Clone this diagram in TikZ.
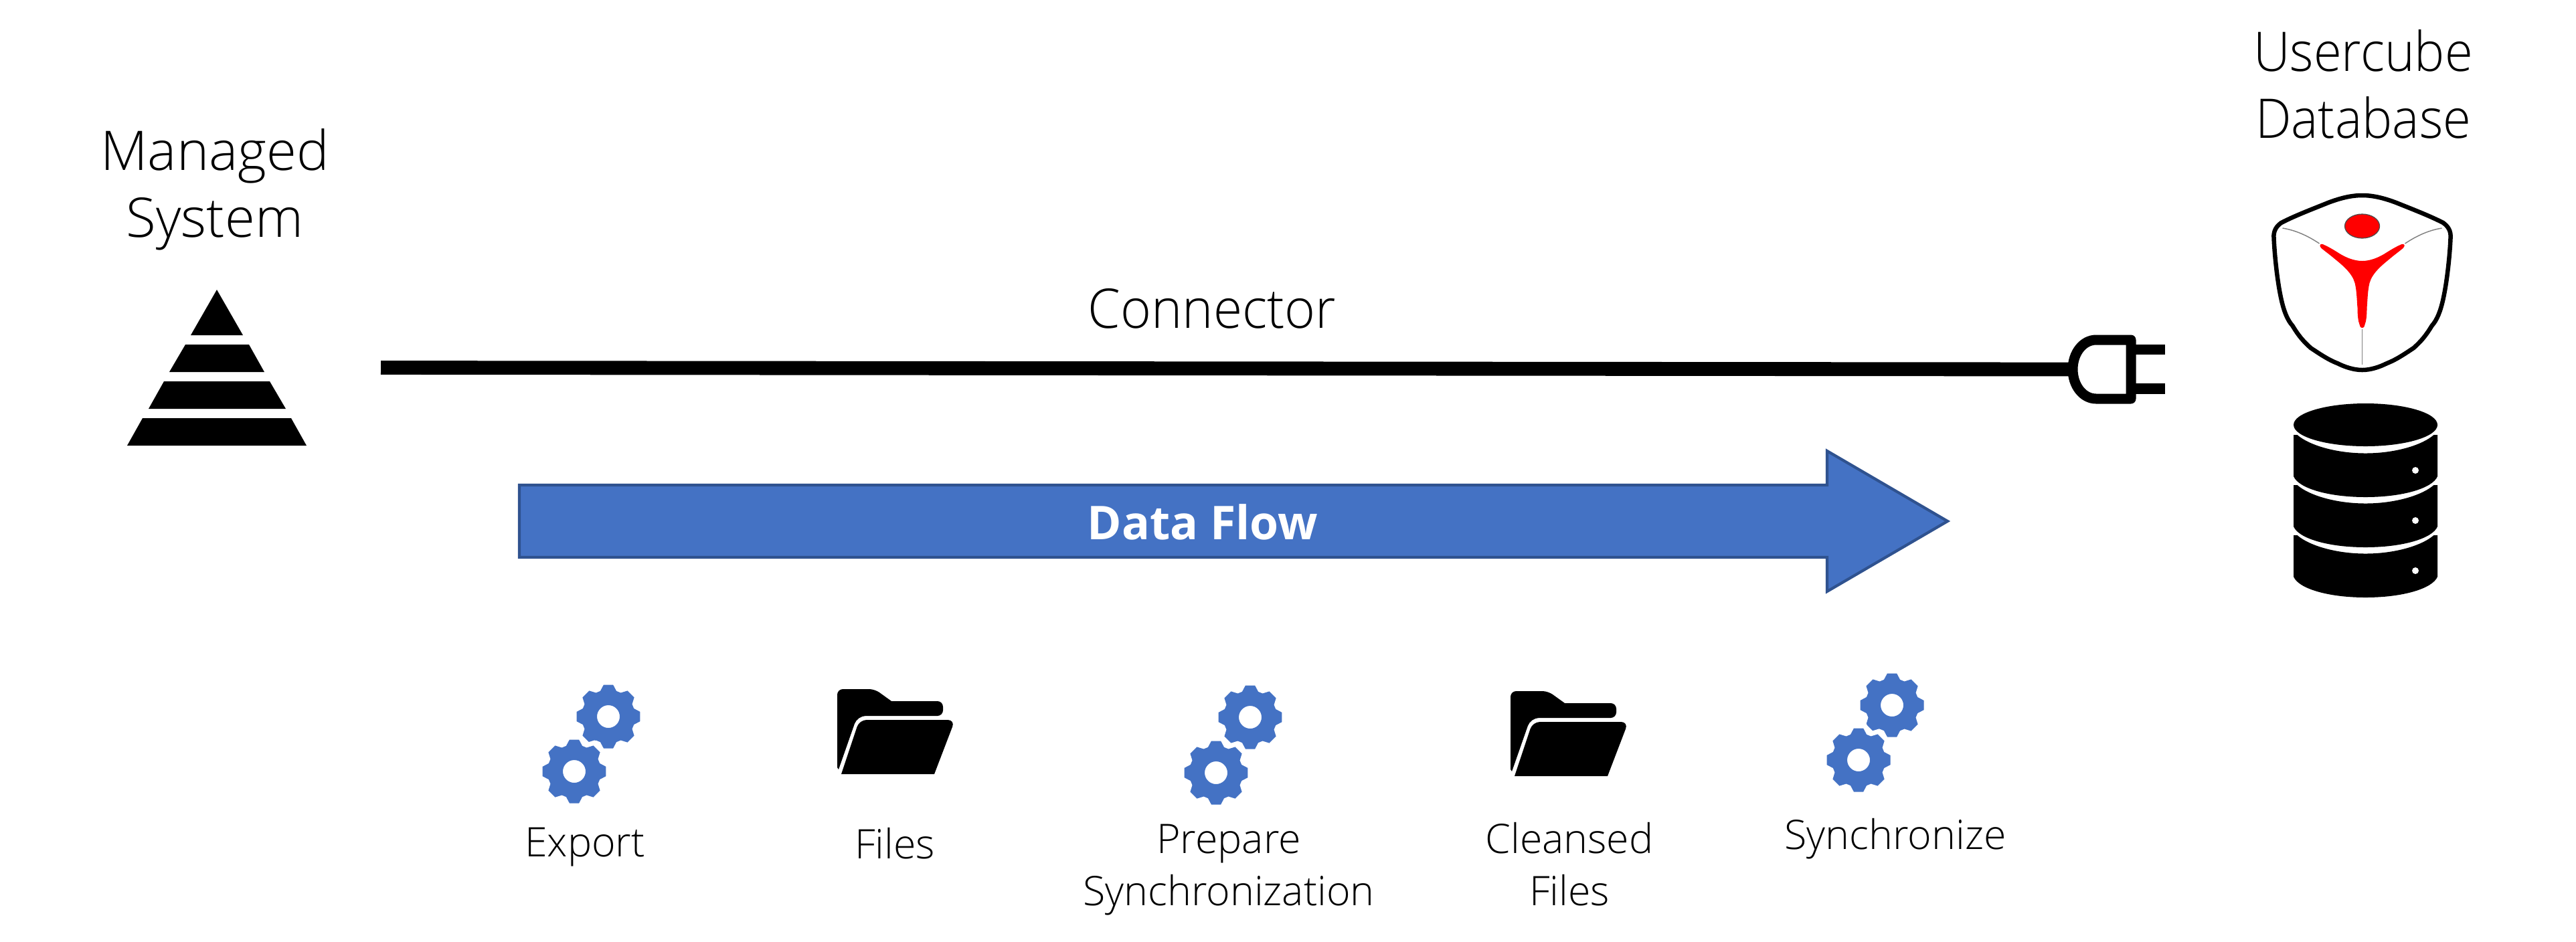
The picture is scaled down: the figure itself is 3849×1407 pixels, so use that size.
\documentclass[tikz,border=0pt]{standalone}
\usepackage{fontspec}
\setmainfont{Open Sans Light}
\newfontfamily\flowfont{Open Sans}
\tikzset{
every pic/.style={yscale=-1},
biglabel/.style={anchor=base,align=center,inner sep=0pt,font=\fontsize{19.6}{23.8}\selectfont},
smalllabel/.style={anchor=base,align=center,inner sep=0pt,font=\fontsize{14.6}{18.5}\selectfont},
flowshape/.style={color={rgb, 255:red, 47; green, 82; blue, 143 },draw opacity=1,fill={rgb, 255:red, 68; green, 114; blue, 196 },fill opacity=1,line width=1pt},
gearicon/.pic={
  \fill [fill={rgb, 255:red, 68; green, 114; blue, 196 },even odd rule,preaction={draw=white,line width=3.4pt}]
    (-8.5:48) \foreach \a in {0,45,...,315} { -- (\a-8.5:48) -- (\a+8.5:48) -- (\a+17.5:40) -- (\a+27.5:40) } -- cycle (0,0) circle (17) ;
},
foldericon/.pic={
  \fill (0,117) [rounded corners=2pt] -- (0,0) -- (56,0) [sharp corners] -- (81,18) [rounded corners=2pt] -- (158,18) -- (158,40) [rounded corners=3pt] -- (30,40) [sharp corners] -- (2,120) -- cycle ;
  \fill (6,127) [rounded corners=2.6pt] -- (33,46) -- (176,46) [sharp corners] -- (145,127) -- cycle ;
},
dbband/.pic={
  \fill (-107.5,0) -- (-102,0) .. controls (-85,15) and (-45,27.5) .. (0,27.5) .. controls (45,27.5) and (85,15) .. (102,0) -- (107.5,0) -- (107.5,62) .. controls (100,80) and (55,93) .. (0,93) .. controls (-55,93) and (-100,80) .. (-107.5,62) -- cycle ;
  \fill [white] (74.5,53) circle (5) ;
},
}

\begin{document}
\begin{tikzpicture}[x=0.24pt,y=0.24pt,yscale=-1,xscale=1]
\path [use as bounding box] (0,0) rectangle (3849,1407);

%Text: managed system
\node [biglabel] (managed) at (321,354) {Managed\\System};
%Shape: Polygon pyramid
\fill (324,433) -- (363,501) -- (285,501) -- cycle ;
\fill (277,515) -- (372,515) -- (395,556) -- (253,556) -- cycle ;
\fill (245,570) -- (403,570) -- (427,611) -- (222,611) -- cycle ;
\fill (213,625) -- (435,625) -- (458,666) -- (190,666) -- cycle ;

%Text: connector
\node [biglabel,font=\fontsize{19.6}{23.8}\selectfont\addfontfeature{FakeStretch=0.96}] (conn) at (1811,490) {Connector};
%Straight Lines
\coordinate (connstart) at (569,549.5);
\coordinate (plugback) at (3097,552);
\draw [line width=5pt] (connstart) -- (plugback);
%Shape: plug
\draw [line width=3.6pt,line join=round] (3184,508) -- (3132,508) .. controls (3112,508) and (3097,528) .. (3097,552) .. controls (3097,576) and (3112,596) .. (3132,596) -- (3184,596) -- cycle ;
\fill (3190,515) rectangle (3235,530);
\fill (3190,573) rectangle (3235,589);

%Shape: Polygon data flow arrow
\draw [flowshape] (776,725) -- (2730,725) -- (2730,674) -- (2910,779) -- (2730,884) -- (2730,833) -- (776,833) -- cycle ;
\node [anchor=base,inner sep=0pt,text=white,font=\fontsize{16.7}{20}\flowfont\bfseries] (dataflow) at (1797,806) {Data Flow};

%Text: usercube database
\node [biglabel,font=\fontsize{19.6}{23.8}\selectfont\addfontfeature{FakeStretch=0.93}] (usercube) at (3531,206) {Usercube\\Database};
%Shape: logo
\begin{scope}[shift={(3529.5,0)}]
\draw [gray,line width=0.35pt] (-119,341) .. controls (-100,344) and (-82,352) .. (-64,364) ;
\draw [gray,line width=0.35pt] (119,341) .. controls (100,344) and (82,352) .. (64,364) ;
\draw [gray,line width=0.35pt] (0,492) -- (0,545) ;
\draw [line width=1.56pt] (0,292) .. controls (18,292) and (35,297) .. (51,303) .. controls (68,310) and (100,322) .. (121,333) .. controls (128,338) and (133,345) .. (132,356) .. controls (131,380) and (127,420) .. (121,447) .. controls (117,465) and (112,478) .. (104,487) .. controls (95,502) and (88,510) .. (77,520) .. controls (62,530) and (50,538) .. (37,543) .. controls (25,549) and (12,553) .. (0,553) .. controls (-12,553) and (-25,549) .. (-37,543) .. controls (-50,538) and (-62,530) .. (-77,520) .. controls (-88,510) and (-95,502) .. (-104,487) .. controls (-112,478) and (-117,465) .. (-121,447) .. controls (-127,420) and (-131,380) .. (-132,356) .. controls (-133,345) and (-128,338) .. (-121,333) .. controls (-100,322) and (-68,310) .. (-51,303) .. controls (-35,297) and (-18,292) .. (0,292) -- cycle ;
\filldraw [fill=red,draw=black!70,line width=0.3pt] (0,338) ellipse (26 and 18) ;
\fill [red] (0,390) .. controls (12,390) and (25,385) .. (37,377) .. controls (45,372) and (52,368) .. (59,365) .. controls (63,364) and (65,367) .. (61,371) .. controls (55,376) and (48,381) .. (41,387) .. controls (30,396) and (15,408) .. (11,423) .. controls (8,435) and (8,450) .. (7,460) .. controls (7,472) and (6,480) .. (4,485) .. controls (3,490) and (1,490) .. (0,490) .. controls (-1,490) and (-3,490) .. (-4,485) .. controls (-6,480) and (-7,472) .. (-7,460) .. controls (-8,450) and (-8,435) .. (-11,423) .. controls (-15,408) and (-30,396) .. (-41,387) .. controls (-48,381) and (-55,376) .. (-61,371) .. controls (-65,367) and (-63,364) .. (-59,365) .. controls (-52,368) and (-45,372) .. (-37,377) .. controls (-25,385) and (-12,390) .. (0,390) -- cycle ;
\end{scope}
%Shape: database
\fill (3534.5,635) ellipse (107.5 and 32) ;
\foreach \by in {650,725,800} {
  \pic at (3534.5,\by) {dbband};
}

%Shape: gears and folders
\pic at (909,1071) {gearicon};
\pic at (858,1153) {gearicon};
\pic at (1251,1030) {foldericon};
\pic at (1868,1072) {gearicon};
\pic at (1817,1155) {gearicon};
\pic at (2257,1033) {foldericon};
\pic at (2827,1054) {gearicon};
\pic at (2777,1136) {gearicon};

%Text: steps
\node [smalllabel] (export) at (874,1280) {Export};
\node [smalllabel] (files) at (1337,1283) {Files};
\node [smalllabel] (prepare) at (1836,1353) {Prepare\\Synchronization};
\node [smalllabel] (cleansed) at (2345,1353) {Cleansed\\Files};
\node [smalllabel] (sync) at (2832,1269) {Synchronize};

\end{tikzpicture}
\end{document}
